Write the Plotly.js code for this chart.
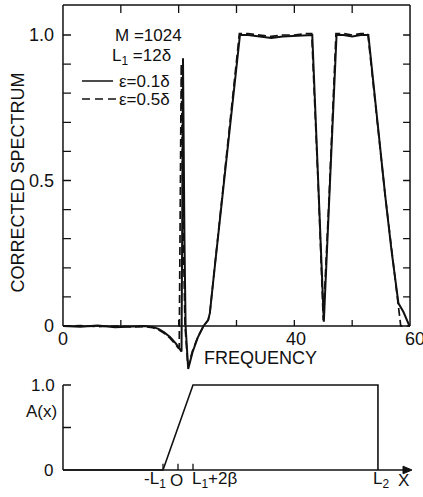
<!DOCTYPE html>
<html>
<head>
<meta charset="utf-8">
<script src="https://cdn.plot.ly/plotly-3.0.1.min.js"></script>
<style>html,body{margin:0;padding:0;background:#fff;}#chart{width:423px;height:497px;}</style>
</head>
<body>
<div id="chart"></div>
<script>
// ---- Data: corrected spectrum, eps = 0.1 delta (solid)
const freqSolid = [0, 3, 6, 9, 12, 14, 15.5, 16.5, 17.5, 18.5, 19.5, 20.2, 20.5, 20.6, 20.75, 21.0, 21.2, 21.65, 22.4, 23.3, 24.3, 25.1, 25.4, 26.0, 27.6, 29.5, 30.6, 32, 34, 36, 38, 40, 42, 43.1, 44.2, 45.1, 46.0, 47.3, 48.5, 50, 51.5, 52.8, 55.7, 56.8, 58.0, 58.85, 59.9, 60];
const specSolid = [0, -0.003, 0.002, -0.004, -0.002, 0.0, -0.003, -0.01, -0.022, -0.038, -0.06, -0.082, -0.088, 0.3, 0.92, 0.3, 0.0, -0.148, -0.09, -0.04, 0.0, 0.02, 0.045, 0.158, 0.45, 0.8, 1.0, 1.0, 0.995, 0.99, 0.995, 0.997, 1.0, 1.0, 0.46, 0.015, 0.42, 1.0, 1.0, 0.995, 1.0, 1.0, 0.45, 0.26, 0.078, 0.049, 0.0, 0.0];
// ---- eps = 0.5 delta (dashed)
const freqDashed = [0, 3, 6, 9, 12, 14, 15.5, 16.5, 17.5, 18.5, 19.3, 19.9, 20.1, 20.25, 20.45, 20.8, 21.1, 21.6, 22.4, 23.3, 24.3, 25.1, 25.4, 26.0, 27.6, 29.5, 30.5, 32, 34, 36, 38, 40, 42, 43.0, 44.2, 45.0, 46.0, 47.2, 48.5, 50, 51.5, 52.7, 55.7, 56.8, 57.9, 58.4, 60];
const specDashed = [0, 0.001, -0.002, 0.0, -0.003, -0.002, -0.006, -0.013, -0.025, -0.042, -0.06, -0.075, -0.07, 0.3, 0.9, 0.3, 0.0, -0.14, -0.085, -0.038, 0.0, 0.02, 0.045, 0.16, 0.455, 0.81, 1.005, 1.005, 1.0, 0.995, 1.0, 1.0, 1.005, 1.005, 0.45, 0.02, 0.44, 1.005, 1.005, 1.0, 1.005, 1.005, 0.45, 0.26, 0.075, 0.0, 0.0];
// ---- Apodization A(x) (schematic, units of L1)
const axX = [-7.667, -1, 1, 13.33, 13.33];
const axY = [0, 0, 1, 1, 0];

// tick labels
const mainYTickVals = [0, 0.5, 1.0];
const mainYTickText = ['0', '0.5', '1.0'];
const mainXTickVals = [0, 40, 60];
const mainXTickText = ['0', '40', '60'];
const lowYTickVals = [0, 1.0];
const lowYTickText = ['0', '1.0'];
const lowXTickVals = [-1, 0, 1, 13.33];
const lowXTickText = ['-L<sub>1</sub>', 'O', 'L<sub>1</sub>+2β', 'L<sub>2</sub>'];

// ---- layout helpers (pixel geometry)
const INK = '#111';
const FONT = 'Liberation Sans, Arial, sans-serif';
const W = 423, H = 497;
const fx0 = 57.2 / W, fx1 = 415.8 / W;
const TOP = 1.103;

const shapes = [];
function seg(xr, yr, x0, y0, x1, y1, w) {
  shapes.push({type: 'line', xref: xr, yref: yr, x0: x0, y0: y0, x1: x1, y1: y1,
    line: {color: INK, width: w || 1.5}});
}
// main frame
seg('x', 'y', 0, 0, 60, 0);
seg('x', 'y', 0, TOP, 60, TOP);
seg('x', 'y', 0, 0, 0, TOP);
seg('x', 'y', 60, 0, 60, TOP);
for (let i = 1; i <= 10; i++) {
  const v = i / 10;
  seg('x', 'y', 0, v, 1.38, v, 1.3);
  seg('x', 'y', 60, v, 58.8, v, 1.3);
}
for (let f = 10; f <= 50; f += 10) {
  seg('x', 'y', f, TOP, f, TOP - 0.0275, 1.3);
  seg('x', 'y', f, 0, f, 0.0206, 1.3);
}
// legend samples
seg('x', 'y', 3.29, 0.842, 8.65, 0.842, 1.6);
shapes.push({type: 'line', xref: 'x', yref: 'y', x0: 3.29, y0: 0.780, x1: 9.34, y1: 0.780,
  line: {color: INK, width: 1.6, dash: '8px,5px'}});
// lower panel axes
seg('x2', 'y2', -7.667, 0, -7.667, 1.0);
seg('x2', 'y2', -7.667, 1.0, -7.133, 1.0, 1.3);
seg('x2', 'y2', -7.667, 0.5, -7.133, 0.5, 1.3);
seg('x2', 'y2', -7.667, 0, 15.3, 0);
[-1, 0, 1].forEach(u => seg('x2', 'y2', u, 0, u, 0.075, 1.3));
shapes.push({type: 'path', xref: 'x2', yref: 'y2',
  path: 'M 15.0,0.045 L 15.6,0 L 15.0,-0.045 Z', fillcolor: INK, line: {color: INK, width: 1}});

const ann = [];
function txt(xr, yr, x, y, t, xa, ya, size) {
  ann.push({xref: xr, yref: yr, x: x, y: y, text: t, showarrow: false,
    xanchor: xa || 'center', yanchor: ya || 'middle',
    font: {family: FONT, size: size || 18, color: INK}});
}
// y tick labels placed in paper x (left of the plotting range)
mainYTickVals.forEach((v, i) => txt('paper', 'y', 56 / W, v, mainYTickText[i], 'right', 'middle', 18));
const xLabelPos = [0, 40.3, 60.9];
mainXTickVals.forEach((f, i) => txt('x', 'y', xLabelPos[i], -0.045, mainXTickText[i], 'center', 'middle', 18));
txt('x', 'y', 34.07, -0.11, 'FREQUENCY', 'center', 'middle', 18);
txt('x', 'y', 8.65, 1.0, 'M =1024', 'left', 'middle', 17);
txt('x', 'y', 8.1, 0.925, 'L<sub>1</sub> =12δ', 'left', 'middle', 17);
txt('x', 'y', 9.34, 0.84, 'ε=0.1δ', 'left', 'middle', 17);
txt('x', 'y', 9.34, 0.778, 'ε=0.5δ', 'left', 'middle', 17);
// lower panel labels
lowYTickVals.forEach((v, i) => txt('paper', 'y2', (v === 0 ? 55 : 57) / W, v, lowYTickText[i], 'right', 'middle', 17));
txt('paper', 'y2', 59 / W, 0.694, 'A(x)', 'right', 'middle', 17);
const lowLabelPos = [-1.53, -0.07, 2.4, 13.53];
lowXTickVals.forEach((u, i) => txt('x2', 'y2', lowLabelPos[i], -0.12, lowXTickText[i], 'center', 'middle', 17));
txt('x2', 'y2', 15.0, -0.12, 'X', 'center', 'middle', 17);
// y title
ann.push({xref: 'paper', yref: 'paper', x: 17.5 / W, y: (H - 183) / H, text: 'CORRECTED SPECTRUM',
  textangle: -90, showarrow: false, xanchor: 'center', yanchor: 'middle',
  font: {family: FONT, size: 18, color: INK}});

const hidden = {showgrid: false, zeroline: false, showline: false, showticklabels: false, ticks: ''};

const traces = [
  {x: freqSolid, y: specSolid, xaxis: 'x', yaxis: 'y', mode: 'lines',
   line: {color: INK, width: 2}, hoverinfo: 'skip'},
  {x: freqDashed, y: specDashed, xaxis: 'x', yaxis: 'y', mode: 'lines',
   line: {color: INK, width: 1.7, dash: '8px,4px'}, hoverinfo: 'skip'},
  {x: axX, y: axY, xaxis: 'x2', yaxis: 'y2', mode: 'lines',
   line: {color: INK, width: 1.6}, hoverinfo: 'skip'}
];

const layout = {
  width: W, height: H,
  margin: {l: 0, r: 0, t: 0, b: 0},
  paper_bgcolor: '#fff', plot_bgcolor: 'rgba(0,0,0,0)',
  showlegend: false,
  xaxis: Object.assign({domain: [fx0, fx1], range: [-1, 61], anchor: 'y'}, hidden),
  yaxis: Object.assign({domain: [(H - 372) / H, 1], range: [-0.1581, 1.1203], anchor: 'x'}, hidden),
  xaxis2: Object.assign({domain: [fx0, fx1], range: [-8.053, 15.853], anchor: 'y2'}, hidden),
  yaxis2: Object.assign({domain: [(H - 484) / H, (H - 378) / H], range: [-0.1647, 1.0824], anchor: 'x2'}, hidden),
  shapes: shapes,
  annotations: ann
};

Plotly.newPlot('chart', traces, layout, {staticPlot: true, displayModeBar: false});
</script>
</body>
</html>
